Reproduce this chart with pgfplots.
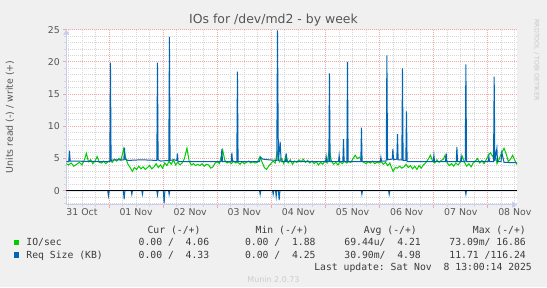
\documentclass[border=0pt]{standalone}
\usepackage{pgfplots}
\pgfplotsset{compat=1.18}
\usepackage{fontspec}
\setmainfont{DejaVu Sans}
\setmonofont{DejaVu Sans Mono}
\usetikzlibrary{arrows.meta}
\definecolor{bg}{HTML}{F0F0F0}
\definecolor{mgrid}{HTML}{F2A6A6}
\definecolor{sgrid}{HTML}{D6D6D6}
\definecolor{munGreen}{HTML}{00CC00}
\definecolor{munBlue}{HTML}{0066B3}
\definecolor{axcol}{HTML}{C8CCEE}
\definecolor{txt}{HTML}{555555}
\definecolor{legtxt}{HTML}{3C3C3C}

\pgfplotstableread{
d v
0.21 4.2
0.25 4.0
0.30 4.3
0.35 3.8
0.40 4.1
0.45 4.4
0.50 4.0
0.55 4.9
0.58 5.8
0.62 4.5
0.66 4.8
0.70 4.2
0.74 4.6
0.78 5.3
0.82 4.4
0.86 4.3
0.90 4.6
0.94 4.2
0.98 4.5
1.02 4.7
1.06 4.4
1.10 4.9
1.14 4.6
1.18 5.0
1.22 4.7
1.27 6.5
1.31 5.0
1.35 4.1
1.39 3.6
1.43 3.0
1.47 3.6
1.51 3.3
1.55 3.8
1.59 3.4
1.63 3.7
1.67 3.3
1.71 3.6
1.75 3.9
1.79 3.4
1.83 3.7
1.87 4.2
1.91 3.6
1.95 4.0
1.99 3.5
2.03 4.3
2.07 3.9
2.11 4.6
2.15 4.1
2.19 4.8
2.23 4.0
2.27 4.4
2.31 4.0
2.35 4.3
2.39 4.9
2.44 6.6
2.48 4.6
2.52 4.0
2.56 4.2
2.60 3.9
2.64 4.1
2.68 3.9
2.72 4.2
2.76 3.8
2.80 4.1
2.84 4.0
2.88 3.5
2.92 3.7
2.96 4.3
3.00 4.5
3.04 4.2
3.10 6.3
3.14 4.7
3.18 4.3
3.22 4.5
3.26 4.2
3.30 4.6
3.34 4.3
3.38 4.4
3.42 4.1
3.46 4.5
3.50 4.2
3.54 4.4
3.58 4.6
3.62 4.3
3.66 4.5
3.70 4.3
3.74 4.4
3.79 5.3
3.83 4.4
3.87 3.6
3.91 3.3
3.95 3.8
3.99 4.2
4.03 4.6
4.07 4.3
4.11 6.0
4.15 4.5
4.19 5.0
4.23 4.2
4.27 5.5
4.31 4.3
4.35 4.8
4.39 4.1
4.43 4.6
4.47 4.4
4.51 4.8
4.55 4.5
4.59 4.9
4.63 4.4
4.67 4.7
4.71 4.3
4.75 4.6
4.79 4.2
4.83 4.5
4.87 4.0
4.91 4.4
4.95 4.1
4.99 4.6
5.03 4.3
5.07 6.3
5.11 4.6
5.15 4.1
5.19 4.4
5.23 4.0
5.27 4.5
5.31 4.2
5.35 4.6
5.39 4.3
5.43 4.5
5.47 4.4
5.51 5.0
5.55 5.5
5.59 5.0
5.63 5.2
5.67 4.6
5.71 4.4
5.75 4.2
5.79 4.5
5.83 4.3
5.87 4.6
5.91 4.2
5.95 4.4
5.99 4.3
6.03 4.5
6.07 4.1
6.11 4.4
6.15 3.9
6.19 4.3
6.22 3.6
6.25 3.0
6.29 3.6
6.33 3.5
6.37 3.8
6.41 3.5
6.45 3.7
6.49 4.1
6.53 3.6
6.57 3.9
6.61 3.4
6.65 3.8
6.69 3.3
6.73 3.9
6.77 3.5
6.81 4.0
6.85 4.3
6.90 4.9
6.94 5.5
6.98 4.6
7.02 4.3
7.06 4.8
7.10 4.4
7.14 4.7
7.18 4.9
7.21 5.5
7.25 4.3
7.29 3.9
7.33 4.2
7.37 3.8
7.41 4.3
7.45 4.0
7.49 4.4
7.53 5.3
7.57 4.4
7.61 3.8
7.65 4.2
7.69 3.7
7.73 4.3
7.77 4.6
7.81 5.0
7.85 4.3
7.89 4.7
7.93 4.2
7.97 4.8
8.01 5.5
8.05 5.9
8.09 5.3
8.13 5.9
8.17 4.2
8.21 4.9
8.25 5.8
8.30 6.6
8.34 5.7
8.38 4.5
8.42 4.9
8.46 5.5
8.50 4.7
8.54 4.06
}\greenw

\pgfplotstableread{
d v
0.21 4.5
0.255 4.5
0.268 6.2
0.281 4.6
1.014 4.5
1.026 19.9
1.038 4.7
1.10 4.8
1.273 4.8
1.285 6.7
1.297 4.9
1.35 4.7
1.60 4.8
1.883 4.7
1.895 19.9
1.907 4.8
1.95 4.6
2.104 4.7
2.116 23.9
2.128 4.7
2.20 4.8
2.252 4.7
2.264 5.8
2.276 4.5
2.35 4.5
3.073 4.5
3.085 6.5
3.097 4.5
3.258 4.5
3.27 5.9
3.282 4.5
3.361 4.5
3.373 18.5
3.385 4.5
3.78 4.5
3.80 5.2
3.84 4.9
3.95 4.8
4.10 4.7
4.113 24.9
4.13 4.6
4.163 7.6
4.18 4.5
4.262 4.5
4.274 5.8
4.286 4.5
5.001 4.5
5.013 5.3
5.025 4.5
5.062 4.5
5.074 18.2
5.086 4.5
5.241 4.5
5.253 5.5
5.265 4.5
5.321 4.5
5.333 8.0
5.345 4.5
5.395 4.5
5.407 20.0
5.419 4.5
5.653 4.5
5.665 9.8
5.677 4.5
6.012 4.5
6.024 5.2
6.036 4.6
6.123 4.6
6.135 21.0
6.147 4.8
6.234 4.9
6.246 6.5
6.258 4.8
6.319 4.9
6.331 8.8
6.343 4.8
6.411 4.8
6.423 19.0
6.435 4.7
6.485 4.7
6.497 12.3
6.509 4.5
6.992 4.5
7.004 5.5
7.016 4.5
7.219 4.5
7.231 5.8
7.243 4.5
7.417 4.5
7.429 6.8
7.441 4.5
7.496 4.5
7.508 5.3
7.520 4.5
7.583 4.5
7.595 19.6
7.607 4.5
8.008 4.5
8.020 5.3
8.032 4.5
8.106 4.5
8.118 17.7
8.130 4.6
8.168 6.6
8.180 4.5
8.245 4.5
8.260 5.9
8.300 4.4
8.54 4.33
}\bluew

\pgfplotstableread{
d v
0.21 0
0.975 0
0.989 -0.82
1.003 0
1.265 0
1.279 -1.33
1.293 0
1.410 0
1.421 -0.56
1.432 0
1.606 0
1.617 -0.56
1.628 0
1.883 0
1.895 -0.67
1.907 0
2.004 0
2.018 -1.96
2.032 0
2.100 0
2.111 -0.56
2.122 0
3.782 0
3.793 -0.56
3.804 0
4.022 0
4.033 -0.56
4.044 0
4.078 0
4.089 -0.9
4.100 0
4.130 0
4.144 -1.45
4.158 0
5.662 0
5.673 -0.56
5.684 0
6.167 0
6.178 -0.56
6.189 0
7.584 0
7.595 -0.56
7.606 0
8.54 0
}\bluer

\begin{document}
\begin{tikzpicture}[x=1bp,y=1bp]
\useasboundingbox (0,0) rectangle (547,287);
\fill[bg] (0,0) rectangle (547,287);
\begin{axis}[
  at={(66.3bp,82.4bp)}, anchor=south west, scale only axis,
  width=450.7bp, height=174.9bp,
  xmin=0.21, xmax=8.54, ymin=-2.16, ymax=25,
  axis background/.style={fill=white},
  axis lines=left,
  axis line style={axcol, line width=0.8bp, -{Triangle[length=5bp,width=6bp]}},
  grid=both,
  major grid style={mgrid, dash pattern=on 1bp off 1bp, line width=0.8bp},
  minor grid style={sgrid, dash pattern=on 1bp off 1bp, line width=0.8bp},
  xtick={1,2,3,4,5,6,7,8},
  xticklabels={},
  minor xtick={0.25,0.5,0.75,1.25,1.5,1.75,2.25,2.5,2.75,3.25,3.5,3.75,4.25,4.5,4.75,5.25,5.5,5.75,6.25,6.5,6.75,7.25,7.5,7.75,8.25,8.5},
  extra x ticks={0.5,1.5,2.5,3.5,4.5,5.5,6.5,7.5,8.5},
  extra x tick labels={31 Oct,01 Nov,02 Nov,03 Nov,04 Nov,05 Nov,06 Nov,07 Nov,08 Nov},
  extra x tick style={grid=none, major tick length=0pt},
  ytick={0,5,10,15,20,25},
  minor ytick={-2,-1,1,2,3,4,6,7,8,9,11,12,13,14,16,17,18,19,21,22,23,24},
  tick align=outside,
  major tick length=3bp, minor tick length=2bp,
  major tick style={mgrid, solid, line width=0.8bp},
  minor tick style={sgrid, solid, line width=0.8bp},
  tick label style={font=\fontsize{9.4}{11}\selectfont, text=txt},
  /pgf/number format/assume math mode=true,
  clip=true,
]
\addplot[munGreen, line width=1bp] table[x=d, y=v] {\greenw};
\addplot[munBlue, line width=1bp] table[x=d, y=v] {\bluew};
\addplot[munBlue, line width=1bp] table[x=d, y=v] {\bluer};
\addplot[black, line width=1bp] coordinates {(0.21,0) (8.54,0)};
\end{axis}

% title
\node[text=txt, inner sep=0] at (273.5,266.8) {\fontsize{12.5}{14}\selectfont IOs for /dev/md2 - by week};
% y label
\node[rotate=90, text=txt, inner sep=0] at (10,170) {\fontsize{9.4}{11}\selectfont Units read (-) / write (+)};
% vertical watermark
\node[rotate=-90, text=black!22, inner sep=0] at (536.7,227) {\fontsize{6.3}{7}\selectfont RRDTOOL / TOBI OETIKER};

% legend block
\begin{scope}[every node/.style={inner sep=0, text=legtxt, font=\ttfamily\fontsize{9.8}{11}\selectfont}]
\node[anchor=base east] at (200.6,54) {Cur~(-/+)};
\node[anchor=base east] at (308.8,54) {Min~(-/+)};
\node[anchor=base east] at (417,54) {Avg~(-/+)};
\node[anchor=base east] at (526,54) {Max~(-/+)};
\fill[munGreen] (14,42.1) rectangle (19.2,47.3);
\node[anchor=base west] at (26.2,41.1) {IO/sec};
\node[anchor=base east] at (209.4,41.1) {0.00~/~~4.06};
\node[anchor=base east] at (315.8,41.1) {0.00~/~~1.88};
\node[anchor=base east] at (421,41.1) {69.44u/~~4.21};
\node[anchor=base east] at (526,41.1) {73.09m/~16.86};
\fill[munBlue] (14,29.5) rectangle (19.2,34.7);
\node[anchor=base west] at (26.2,28.5) {Req~Size~(KB)};
\node[anchor=base east] at (209.4,28.5) {0.00~/~~4.33};
\node[anchor=base east] at (315.8,28.5) {0.00~/~~4.25};
\node[anchor=base east] at (421,28.5) {30.90m/~~4.98};
\node[anchor=base east] at (526,28.5) {11.71~/116.24};
\node[anchor=base east] at (532,16.6) {Last~update:~Sat~Nov~~8~13:00:14~2025};
\end{scope}
\node[text=black!20, inner sep=0] at (273.5,7) {\fontsize{8}{9}\selectfont Munin 2.0.73};
\end{tikzpicture}
\end{document}
